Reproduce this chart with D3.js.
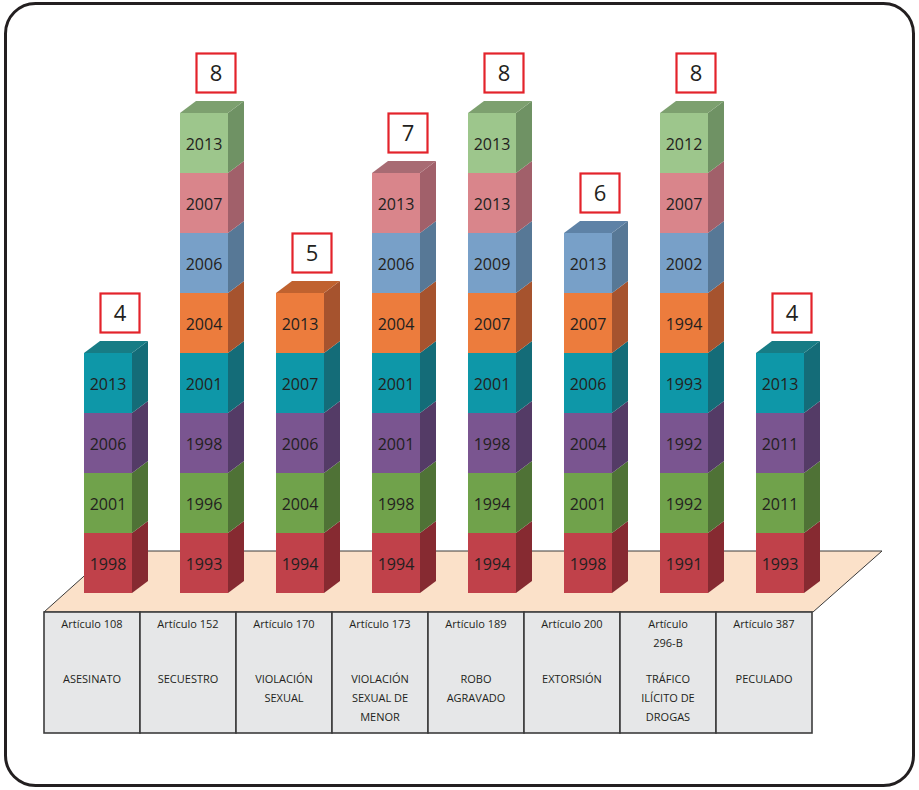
<!DOCTYPE html>
<html>
<head>
<meta charset="utf-8">
<script src="https://cdn.jsdelivr.net/npm/d3@7"></script>
<style>
  html, body { margin: 0; padding: 0; background: #ffffff; }
  svg { display: block; font-family: "Open Sans", "Noto Sans", sans-serif; }
</style>
</head>
<body>
<svg id="chart" width="919" height="790"></svg>
<script>
// Articles of the penal code and the year of each modification, bottom to top.
const articles = ["Artículo 108", "Artículo 152", "Artículo 170", "Artículo 173",
                  "Artículo 189", "Artículo 200", "Artículo 296-B", "Artículo 387"];
const crimes = ["ASESINATO", "SECUESTRO", "VIOLACIÓN SEXUAL", "VIOLACIÓN SEXUAL DE MENOR",
                "ROBO AGRAVADO", "EXTORSIÓN", "TRÁFICO ILÍCITO DE DROGAS", "PECULADO"];
const years108 = [1998, 2001, 2006, 2013];
const years152 = [1993, 1996, 1998, 2001, 2004, 2006, 2007, 2013];
const years170 = [1994, 2004, 2006, 2007, 2013];
const years173 = [1994, 1998, 2001, 2001, 2004, 2006, 2013];
const years189 = [1994, 1994, 1998, 2001, 2007, 2009, 2013, 2013];
const years200 = [1998, 2001, 2004, 2006, 2007, 2013];
const years296B = [1991, 1992, 1992, 1993, 1994, 2002, 2007, 2012];
const years387 = [1993, 2011, 2011, 2013];
const modifications = [years108, years152, years170, years173, years189, years200, years296B, years387];
// Total modifications per article (printed in the boxes above the columns)
const totals = [4, 8, 5, 7, 8, 6, 8, 4];

// Label lines inside the table cells
const articleLines = [["Artículo 108"], ["Artículo 152"], ["Artículo 170"], ["Artículo 173"],
                      ["Artículo 189"], ["Artículo 200"], ["Artículo", "296-B"], ["Artículo 387"]];
const crimeLines = [["ASESINATO"], ["SECUESTRO"], ["VIOLACIÓN", "SEXUAL"],
                    ["VIOLACIÓN", "SEXUAL DE", "MENOR"], ["ROBO", "AGRAVADO"], ["EXTORSIÓN"],
                    ["TRÁFICO", "ILÍCITO DE", "DROGAS"], ["PECULADO"]];

// Colour of each stacking level: front, side, top
const levelFront = ["#c0414a", "#70a24b", "#7a5590", "#0e97a8", "#ec7c3d", "#78a0c8", "#d9858b", "#9dc68c"];
const levelSide  = ["#862a31", "#4f7236", "#543b66", "#146c78", "#a6532e", "#577896", "#a1606a", "#6f9264"];
const levelTop   = ["#8f2f36", "#5a7e3e", "#5f4473", "#177c85", "#c0622f", "#5e82a6", "#a86b73", "#7da06f"];

const svg = d3.select("#chart");

// Outer rounded frame
svg.append("rect")
  .attr("x", 5.5).attr("y", 3.5).attr("width", 908).attr("height", 782)
  .attr("rx", 30).attr("ry", 30)
  .attr("fill", "#ffffff").attr("stroke", "#231f20").attr("stroke-width", 3);

// Scales
const x = d3.scaleBand().domain(d3.range(articles.length)).range([44, 812]).padding(0);
const y = d3.scaleLinear().domain([0, 8]).range([593, 113]);
const depthX = 16, depthY = 12;
const frontOffset = 40, frontWidth = 48;

// Floor (perspective slab)
const floorTop = 551, floorBottom = 612;
svg.append("path")
  .attr("d", d3.line()([[44, floorBottom], [112, floorTop], [882, floorTop], [813, floorBottom]]) + "Z")
  .attr("fill", "#fbe1c9").attr("stroke", "#3a3a3a").attr("stroke-width", 1);

// Table under the floor
const table = svg.append("g");
table.selectAll("rect.cell")
  .data(articles)
  .join("rect")
  .attr("class", "cell")
  .attr("x", (d, i) => x(i)).attr("y", floorBottom)
  .attr("width", x.bandwidth()).attr("height", 733 - floorBottom)
  .attr("fill", "#e6e7e8").attr("stroke", "#3c3c3c").attr("stroke-width", 1.6);

table.selectAll("g.col")
  .data(articles)
  .join("g")
  .attr("class", "col")
  .each(function (d, i) {
    const g = d3.select(this);
    const cx = x(i) + x.bandwidth() / 2;
    articleLines[i].forEach((line, k) => {
      g.append("text").attr("x", cx).attr("y", 628 + k * 19)
        .attr("text-anchor", "middle").attr("font-size", 11).attr("fill", "#231f20")
        .text(line);
    });
    crimeLines[i].forEach((line, k) => {
      g.append("text").attr("x", cx).attr("y", 683 + k * 19)
        .attr("text-anchor", "middle").attr("font-size", 11).attr("fill", "#231f20")
        .text(line);
    });
  });

// Stacked 3-D columns
const bars = svg.selectAll("g.bar")
  .data(modifications)
  .join("g")
  .attr("class", "bar");

bars.each(function (years, i) {
  const g = d3.select(this);
  const x0 = x(i) + frontOffset, x1 = x0 + frontWidth;
  years.forEach((yr, lvl) => {
    const yb = y(lvl), yt = y(lvl + 1);
    // side face
    g.append("path")
      .attr("d", d3.line()([[x1, yb], [x1 + depthX, yb - depthY], [x1 + depthX, yt - depthY], [x1, yt]]) + "Z")
      .attr("fill", levelSide[lvl]);
    // front face
    g.append("rect")
      .attr("x", x0).attr("y", yt).attr("width", frontWidth).attr("height", yb - yt)
      .attr("fill", levelFront[lvl]);
    g.append("text")
      .attr("x", (x0 + x1) / 2).attr("y", (yt + yb) / 2 + 7)
      .attr("text-anchor", "middle").attr("font-size", 16).attr("fill", "#231f20")
      .text(yr);
  });
  // top cap
  const n = years.length, yt = y(n);
  g.append("path")
    .attr("d", d3.line()([[x0, yt], [x0 + depthX, yt - depthY], [x1 + depthX, yt - depthY], [x1, yt]]) + "Z")
    .attr("fill", levelTop[n - 1]);
});

// Total boxes above each column
const boxes = svg.selectAll("g.total")
  .data(totals)
  .join("g")
  .attr("class", "total")
  .attr("transform", (d, i) => `translate(${x(i) + frontOffset + (frontWidth + depthX) / 2 + 4},${y(d) - 40})`);
boxes.append("rect")
  .attr("x", -19.5).attr("y", -19.5).attr("width", 39).attr("height", 39)
  .attr("fill", "#ffffff").attr("stroke", "#e3232b").attr("stroke-width", 2.2);
boxes.append("text")
  .attr("text-anchor", "middle").attr("y", 8).attr("font-size", 22).attr("fill", "#231f20")
  .text(d => d);
</script>
</body>
</html>
